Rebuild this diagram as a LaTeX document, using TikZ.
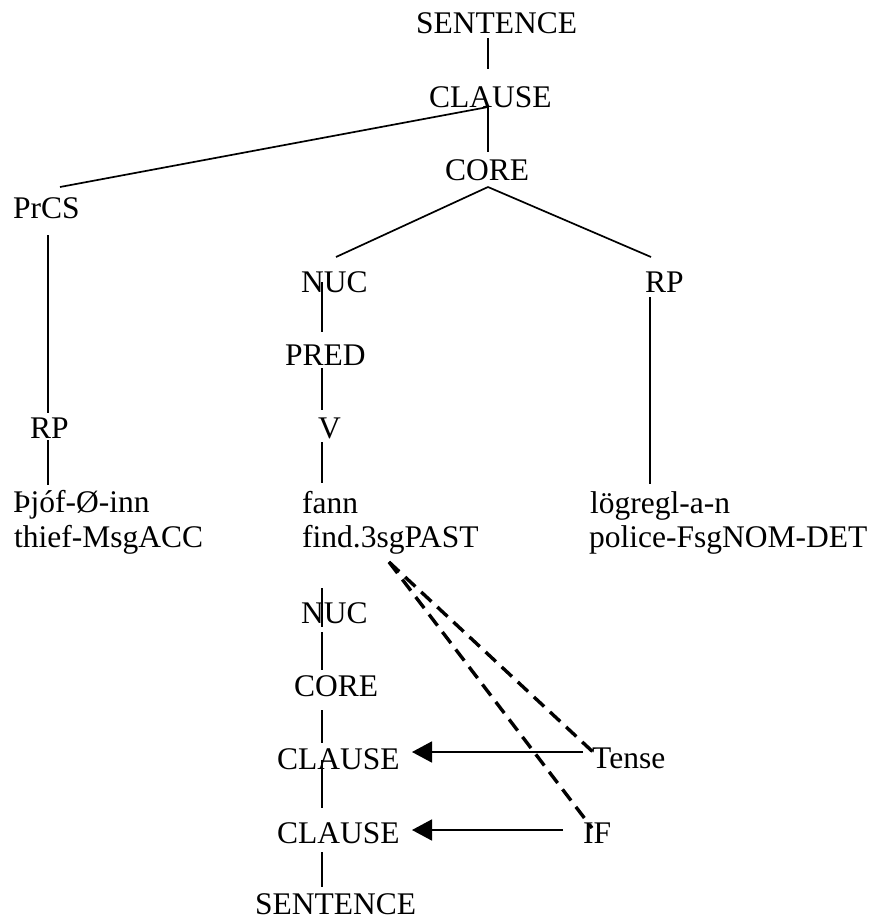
\documentclass[tikz,border=0pt]{standalone}
\usepackage{fontspec}
\setmainfont{Liberation Serif}
\usetikzlibrary{arrows.meta}
\begin{document}
\begin{tikzpicture}[x=1pt,y=-1pt,
  lbl/.style={anchor=base west,inner sep=0pt,font=\fontsize{31.5}{34}\selectfont},
  branch/.style={line width=1.7pt},
  opline/.style={line width=3.4pt,dash pattern=on 14pt off 8pt},
  opto/.style={line width=1.8pt,-{Triangle[length=20pt,width=21pt]}}]
\useasboundingbox (0,0) rectangle (873,918);

% constituent projection
\node[lbl] (S1)  at (416,33)  {SENTENCE};
\node[lbl] (CL)  at (429,107) {CLAUSE};
\node[lbl] (CO)  at (445,180) {CORE};
\node[lbl] (PrCS) at (13,218) {PrCS};
\node[lbl] (NUC) at (301,292) {NUC};
\node[lbl] (RPr) at (645,292) {RP};
\node[lbl] (PRED) at (285,365) {PRED};
\node[lbl] (V)   at (318,438) {V};
\node[lbl] (RPl) at (30,438)  {RP};

% words and glosses
\node[lbl] (w1) at (13,512)  {Þjóf-Ø-inn};
\node[lbl] (g1) at (14,547)  {thief-MsgACC};
\node[lbl] (w2) at (302,513) {fann};
\node[lbl] (g2) at (302,547) {find.3sgPAST};
\node[lbl] (w3) at (590,513) {lögregl-a-n};
\node[lbl] (g3) at (589,547) {police-FsgNOM-DET};

% operator projection
\node[lbl] (NUCo) at (301,623) {NUC};
\node[lbl] (COo)  at (294,696) {CORE};
\node[lbl] (CLo1) at (277,769) {CLAUSE};
\node[lbl] (CLo2) at (277,843) {CLAUSE};
\node[lbl] (So)   at (255,914) {SENTENCE};
\node[lbl] (T)    at (592,768) {Tense};
\node[lbl] (IF)   at (583,843) {IF};

% connector end points
\coordinate (S1-b) at (488,38);   \coordinate (CL-t) at (488,69);
\coordinate (CL-b) at (488,107);  \coordinate (CO-t) at (488,152);
\coordinate (PrCS-t) at (60,187);
\coordinate (CO-b) at (488,187);
\coordinate (NUC-t) at (336,257); \coordinate (RPr-t) at (651,257);
\coordinate (PrCS-b) at (48,235); \coordinate (RPl-t) at (48,413);
\coordinate (RPl-b) at (48,440);  \coordinate (w1-t) at (48,485);
\coordinate (NUC-b) at (322,282); \coordinate (PRED-t) at (322,332);
\coordinate (PRED-b) at (322,368);\coordinate (V-t) at (322,410);
\coordinate (V-b) at (322,442);   \coordinate (w2-t) at (322,483);
\coordinate (RPr-b) at (650,297); \coordinate (w3-t) at (650,484);
\coordinate (g2-b) at (322,588);  \coordinate (NUCo-t) at (322,627);
\coordinate (NUCo-b) at (322,632);\coordinate (COo-t) at (322,670);
\coordinate (COo-b) at (322,710); \coordinate (CLo1-t) at (322,743);
\coordinate (CLo1-b) at (322,760);\coordinate (CLo2-t) at (322,808);
\coordinate (CLo2-b) at (322,852);\coordinate (So-t) at (322,887);
\coordinate (g2-op) at (389,562);
\coordinate (T-in) at (593,752);  \coordinate (IF-in) at (592,828);
\coordinate (T-out) at (583,752); \coordinate (CLo1-r) at (412,752);
\coordinate (IF-out) at (563,830);\coordinate (CLo2-r) at (412,830);

% constituent branches
\draw[branch] (S1-b) -- (CL-t);
\draw[branch] (CL-b) -- (CO-t);
\draw[branch] (CL-b) -- (PrCS-t);
\draw[branch] (CO-b) -- (NUC-t);
\draw[branch] (CO-b) -- (RPr-t);
\draw[branch] (PrCS-b) -- (RPl-t);
\draw[branch] (RPl-b) -- (w1-t);
\draw[branch] (NUC-b) -- (PRED-t);
\draw[branch] (PRED-b) -- (V-t);
\draw[branch] (V-b) -- (w2-t);
\draw[branch] (RPr-b) -- (w3-t);

% operator branches
\draw[branch] (g2-b) -- (NUCo-t);
\draw[branch] (NUCo-b) -- (COo-t);
\draw[branch] (COo-b) -- (CLo1-t);
\draw[branch] (CLo1-b) -- (CLo2-t);
\draw[branch] (CLo2-b) -- (So-t);

% operators linked to the verb and scoped over the clause
\draw[opline] (g2-op) -- (T-in);
\draw[opline] (g2-op) -- (IF-in);
\draw[opto] (T-out) -- (CLo1-r);
\draw[opto] (IF-out) -- (CLo2-r);
\end{tikzpicture}
\end{document}
